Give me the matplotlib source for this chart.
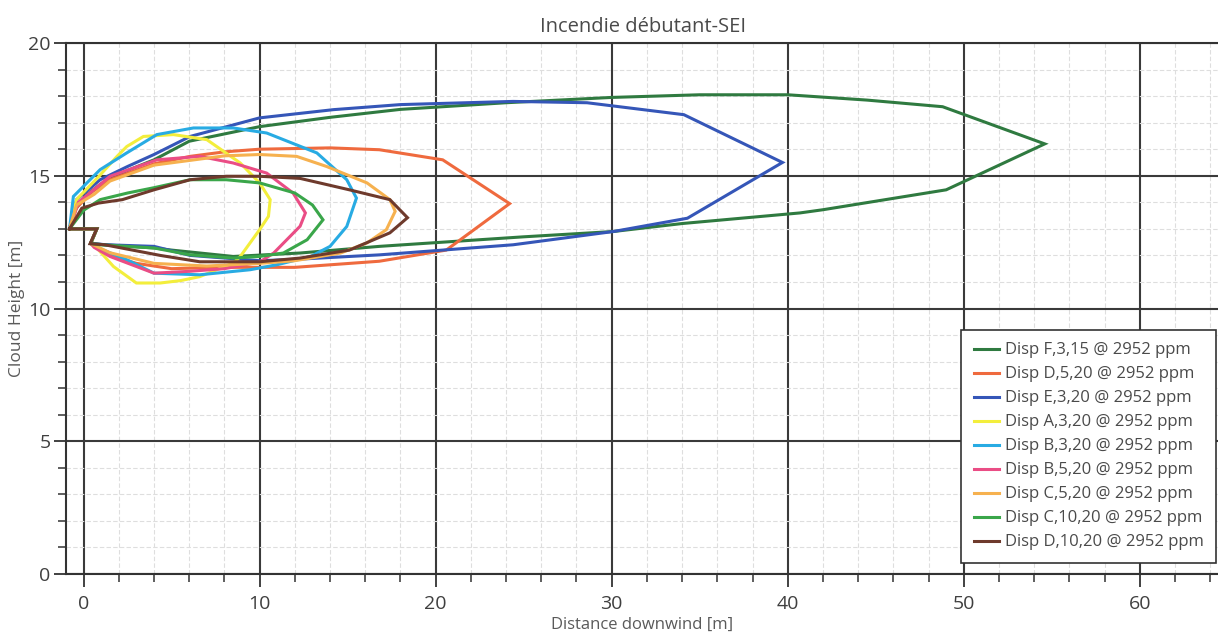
import matplotlib
matplotlib.use('Agg')
import matplotlib.pyplot as plt
from matplotlib.ticker import MultipleLocator

plt.rcParams['font.family'] = ['Open Sans', 'DejaVu Sans']

# contours: upper branch from the source, tip, lower branch back to the source
f315_x = [-0.8, -0.5, 0.2, 1.0, 2.5, 4.0, 6.0, 10, 14, 18, 24, 30, 35, 40, 44.5, 48.8, 54.6,
          49.0, 42.0, 40.7, 34, 30.1, 25, 16.8, 12.3, 8.5, 5, 4.0, 1.2, 0.4, 0.75, -0.8]
f315_y = [13.0, 13.7, 14.3, 14.7, 15.2, 15.6, 16.3, 16.85, 17.2, 17.5, 17.75, 17.95, 18.05, 18.05, 17.85, 17.6, 16.2,
          14.47, 13.72, 13.6, 13.2, 12.9, 12.7, 12.34, 12.09, 11.96, 12.2, 12.28, 12.4, 12.45, 13.0, 13.0]

d520_x = [-0.8, -0.4, 0.5, 1.5, 4.0, 6.05, 8, 10, 14, 16.8, 20.4, 24.2,
          20.6, 16.8, 12, 7.75, 5, 3, 1.5, 0.4, 0.75, -0.8]
d520_y = [13.0, 13.8, 14.4, 14.85, 15.45, 15.73, 15.9, 16.0, 16.05, 15.98, 15.6, 13.95,
          12.2, 11.78, 11.55, 11.55, 11.5, 11.7, 12.0, 12.45, 13.0, 13.0]

e320_x = [-0.8, -0.4, 0.94, 2.5, 4.0, 6.05, 10, 14.2, 18, 24.4, 28.6, 34.1, 39.7,
          34.3, 30.1, 24.4, 16.8, 12, 10, 6.05, 4.0, 1.3, 0.4, 0.75, -0.8]
e320_y = [13.0, 14.1, 14.85, 15.35, 15.8, 16.48, 17.18, 17.49, 17.68, 17.8, 17.75, 17.3, 15.5,
          13.4, 12.9, 12.4, 12.02, 11.85, 11.8, 12.0, 12.34, 12.4, 12.45, 13.0, 13.0]

a320_x = [-0.8, -0.4, 0.9, 1.9, 2.45, 3.4, 5.1, 7.0, 8.9, 10, 10.6, 10.5, 10, 8.9,
          8.5, 6.6, 5.5, 4.35, 3.0, 1.7, 0.75, 0.4, 0.75, -0.8]
a320_y = [13.0, 14.1, 15.0, 15.73, 16.1, 16.48, 16.55, 16.36, 15.48, 14.73, 14.1, 13.47, 12.97, 11.96,
          11.71, 11.2, 11.05, 10.96, 10.96, 11.58, 12.28, 12.45, 13.0, 13.0]

b320_x = [-0.8, -0.58, 0.94, 2.45, 4.16, 6.24, 8.5, 10.4, 13.25, 14.95, 15.5,
          14.95, 14.0, 12.9, 11, 9.46, 6.6, 4.0, 2.45, 0.75, 0.4, 0.75, -0.8]
b320_y = [13.0, 14.22, 15.23, 15.86, 16.55, 16.8, 16.8, 16.61, 15.86, 14.85, 14.16,
          13.09, 12.34, 11.96, 11.65, 11.46, 11.27, 11.33, 11.84, 12.3, 12.45, 13.0, 13.0]

b520_x = [-0.8, -0.3, 1.5, 4.16, 6.6, 8.5, 10.4, 11.9, 12.6,
          12.3, 10.8, 10, 8, 6, 4.0, 1.5, 0.6, 0.4, 0.75, -0.8]
b520_y = [13.0, 14.0, 14.98, 15.6, 15.73, 15.48, 15.1, 14.35, 13.6,
          13.1, 12.09, 11.75, 11.5, 11.4, 11.33, 11.96, 12.3, 12.45, 13.0, 13.0]

c520_x = [-0.8, -0.4, 0.6, 1.5, 4, 8, 10, 12.1, 13.8, 16.1, 17.4, 17.7,
          17.2, 16.1, 14.6, 12, 10, 7, 4, 1.5, 0.4, 0.75, -0.8]
c520_y = [13.0, 13.9, 14.3, 14.8, 15.4, 15.75, 15.8, 15.73, 15.35, 14.73, 14.1, 13.66,
          12.97, 12.47, 12.09, 11.8, 11.7, 11.6, 11.7, 12.1, 12.45, 13.0, 13.0]

c1020_x = [-0.8, 0.0, 0.94, 2.5, 4.0, 6.05, 8.1, 10, 12, 13.0, 13.6,
           12.7, 11.35, 10, 8.5, 6.05, 4.0, 0.94, 0.4, 0.75, -0.8]
c1020_y = [13.0, 13.7, 14.1, 14.35, 14.55, 14.85, 14.85, 14.73, 14.35, 13.9, 13.34,
           12.59, 12.09, 11.96, 11.9, 12.02, 12.28, 12.4, 12.45, 13.0, 13.0]

d1020_x = [-0.8, -0.1, 0.84, 2.2, 4.0, 6.05, 8.1, 10, 12.3, 15.1, 17.4, 18.4,
           17.4, 15.1, 12.3, 10, 6.6, 4.35, 1.2, 0.37, 0.75, -0.8]
d1020_y = [13.0, 13.78, 13.97, 14.1, 14.47, 14.85, 14.98, 14.98, 14.9, 14.47, 14.1, 13.42,
           12.85, 12.2, 11.9, 11.76, 11.76, 12.0, 12.4, 12.44, 13.0, 13.0]

series = [
    ('Disp F,3,15 @ 2952 ppm', f315_x, f315_y, '#2f7a40'),
    ('Disp D,5,20 @ 2952 ppm', d520_x, d520_y, '#ef6a3e'),
    ('Disp E,3,20 @ 2952 ppm', e320_x, e320_y, '#3556b8'),
    ('Disp A,3,20 @ 2952 ppm', a320_x, a320_y, '#f3ee3c'),
    ('Disp B,3,20 @ 2952 ppm', b320_x, b320_y, '#28abe3'),
    ('Disp B,5,20 @ 2952 ppm', b520_x, b520_y, '#ea4d85'),
    ('Disp C,5,20 @ 2952 ppm', c520_x, c520_y, '#f6b14f'),
    ('Disp C,10,20 @ 2952 ppm', c1020_x, c1020_y, '#3aa64a'),
    ('Disp D,10,20 @ 2952 ppm', d1020_x, d1020_y, '#6e3a2c'),
]

fig = plt.figure(figsize=(12.18, 6.36), dpi=100)
ax = fig.add_axes([66 / 1218, 62 / 636, 1153 / 1218, 531 / 636])

for name, xs, ys, col in series:
    ax.plot(xs, ys, color=col, lw=2.2, label=name, solid_joinstyle='miter')

ax.set_xlim(-1, 64.5)
ax.set_ylim(0, 20)
ax.xaxis.set_major_locator(MultipleLocator(10))
ax.xaxis.set_minor_locator(MultipleLocator(2))
ax.yaxis.set_major_locator(MultipleLocator(5))
ax.yaxis.set_minor_locator(MultipleLocator(1))

ax.grid(which='major', color='#3a3a3a', lw=1.5)
ax.grid(which='minor', color='#dedede', lw=0.8, ls=(0, (4, 2)))
ax.set_axisbelow(True)

for s in ['left', 'bottom', 'top']:
    ax.spines[s].set_color('#333333')
    ax.spines[s].set_linewidth(1.5)
ax.spines['right'].set_visible(False)

ax.tick_params(which='major', direction='out', length=9, width=1.3, color='#333333',
               labelsize=14, labelcolor='#3f3f3f')
ax.tick_params(axis='y', which='major', pad=2)
ax.tick_params(axis='x', which='major', pad=6)
ax.tick_params(which='minor', direction='out', length=6, width=1.1, color='#333333')

ax.set_title('Incendie débutant-SEI', fontsize=14.5, color='#4a4a4a', pad=8)
ax.set_xlabel('Distance downwind [m]', fontsize=12, color='#5a5a5a', labelpad=3)
ax.set_ylabel('Cloud Height [m]', fontsize=12.5, color='#5a5a5a', labelpad=2)

leg = ax.legend(loc='lower right', bbox_to_anchor=(1216 / 1218, 73 / 636),
                bbox_transform=fig.transFigure, borderaxespad=0, fancybox=False,
                framealpha=1, edgecolor='#333333', fontsize=12, handlelength=1.5,
                handletextpad=0.35, labelspacing=0.48, borderpad=0.75)
leg.get_frame().set_linewidth(1.2)
for t in leg.get_texts():
    t.set_color('#4a4a4a')

fig.savefig('out.png', dpi=100)
